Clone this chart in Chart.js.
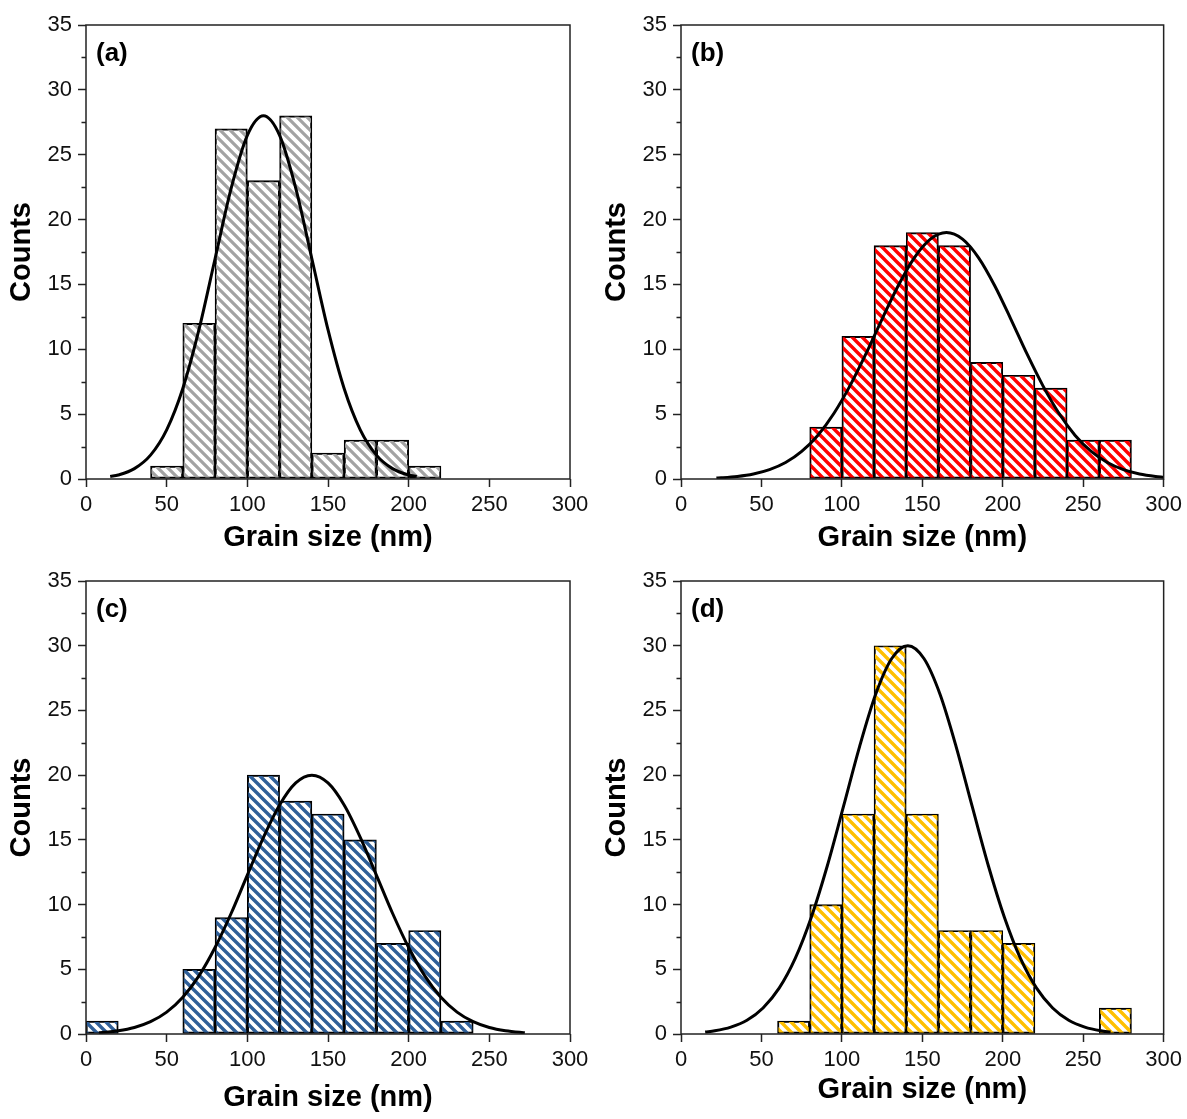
<!DOCTYPE html>
<html>
<head>
<meta charset="utf-8">
<title>Grain size distributions</title>
<script src="https://cdn.jsdelivr.net/npm/chart.js@4.4.1/dist/chart.umd.min.js"></script>
<style>
  html, body { margin: 0; padding: 0; background: #ffffff; }
  body { width: 1187px; height: 1119px; position: relative; overflow: hidden; }
  canvas { position: absolute; display: block; }
</style>
</head>
<body>
<canvas id="pa" width="595" height="556" style="left:0;top:0"></canvas>
<canvas id="pb" width="592" height="556" style="left:595px;top:0"></canvas>
<canvas id="pc" width="595" height="563" style="left:0;top:556px"></canvas>
<canvas id="pd" width="592" height="563" style="left:595px;top:556px"></canvas>
<script>
// Histogram bins: 20 nm wide, 0–300 nm
const binLabels = ['0-20','20-40','40-60','60-80','80-100','100-120','120-140','140-160',
                   '160-180','180-200','200-220','220-240','240-260','260-280','280-300'];

// Counts per bin (null = empty bin)
const countsA = [null, null, 1, 12, 27, 23, 28, 2, 3, 3, 1, null, null, null, null];
const countsB = [null, null, null, null, 4, 11, 18, 19, 18, 9, 8, 7, 3, 3, null];
const countsC = [1, null, null, 5, 9, 20, 18, 17, 15, 7, 8, 1, null, null, null];
const countsD = [null, null, null, 1, 10, 17, 30, 17, 8, 8, 7, null, null, 2, null];

// Fitted distribution curves (grain size in nm, counts)
const fitXA = [15, 20, 30, 40, 50, 60, 70, 80, 90, 100, 110, 120, 130, 140, 150, 160, 170, 180, 190, 200, 205];
const fitYA = [0.19, 0.31, 0.80, 1.84, 3.79, 6.98, 11.51, 16.98, 22.42, 26.49, 28, 26.49, 22.42, 16.98, 11.51, 6.98, 3.79, 1.84, 0.80, 0.31, 0.19];

const fitXB = [22, 25, 35, 45, 55, 65, 75, 85, 95, 105, 115, 125, 135, 145, 155, 165, 175, 185, 195, 205, 215, 225, 235, 245, 255, 265, 275, 285, 295, 300];
const fitYB = [0.075, 0.095, 0.197, 0.387, 0.72, 1.27, 2.13, 3.36, 5.05, 7.18, 9.66, 12.33, 14.90, 17.05, 18.49, 19, 18.49, 17.05, 14.90, 12.33, 9.66, 7.18, 5.05, 3.36, 2.13, 1.27, 0.72, 0.387, 0.197, 0.14];

const fitXC = [8, 10, 20, 30, 40, 50, 60, 70, 80, 90, 100, 110, 120, 130, 140, 150, 160, 170, 180, 190, 200, 210, 220, 230, 240, 250, 260, 270, 272];
const fitYC = [0.099, 0.116, 0.248, 0.50, 0.95, 1.69, 2.84, 4.49, 6.68, 9.33, 12.28, 15.20, 17.70, 19.40, 20, 19.40, 17.70, 15.20, 12.28, 9.33, 6.68, 4.49, 2.84, 1.69, 0.95, 0.50, 0.248, 0.116, 0.099];

const fitXD = [15, 21, 31, 41, 51, 61, 71, 81, 91, 101, 111, 121, 131, 141, 151, 161, 171, 181, 191, 201, 211, 221, 231, 241, 251, 261, 267];
const fitYD = [0.15, 0.245, 0.53, 1.06, 2.01, 3.54, 5.84, 9.02, 13.02, 17.58, 22.21, 26.25, 29.01, 30, 29.01, 26.25, 22.21, 17.58, 13.02, 9.02, 5.84, 3.54, 2.01, 1.06, 0.53, 0.245, 0.15];

// Axis ticks
const xTicks = [0, 50, 100, 150, 200, 250, 300];
const yTicks = [0, 5, 10, 15, 20, 25, 30, 35];
const yMinorTicks = [2.5, 7.5, 12.5, 17.5, 22.5, 27.5, 32.5];

const FONT = '"Liberation Sans", Arial, Helvetica, sans-serif';
const AXIS_COLOR = '#222222';

// Diagonal "\" hatch fill
function hatch(ctx, color, width) {
  const p = 10;
  const c = document.createElement('canvas');
  c.width = p; c.height = p;
  const g = c.getContext('2d');
  g.strokeStyle = color;
  g.lineWidth = width;
  g.beginPath();
  for (const k of [-1, 0, 1]) {
    g.moveTo(k * p - 2, -2);
    g.lineTo(k * p + p + 2, p + 2);
  }
  g.stroke();
  return ctx.createPattern(c, 'repeat');
}

// Box frame, minor y ticks and the panel letter
const framePlugin = {
  id: 'frame',
  afterDatasetsDraw(chart, args, opts) {
    const { ctx, chartArea: a, scales } = chart;
    ctx.save();
    ctx.strokeStyle = AXIS_COLOR;
    ctx.lineWidth = 1.5;
    ctx.beginPath();
    for (const v of yMinorTicks) {
      const py = Math.round(scales.y.getPixelForValue(v)) + 0.5;
      ctx.moveTo(a.left, py);
      ctx.lineTo(a.left - 4.5, py);
    }
    ctx.stroke();
    ctx.strokeRect(a.left, a.top, a.right - a.left, a.bottom - a.top);
    ctx.font = 'bold 26px ' + FONT;
    ctx.fillStyle = '#000';
    ctx.textAlign = 'left';
    ctx.textBaseline = 'middle';
    ctx.fillText(opts.label, a.left + 10, a.top + 29);
    ctx.restore();
  }
};

function makePanel(id, cfg) {
  const canvas = document.getElementById(id);
  const ctx = canvas.getContext('2d');
  const fill = hatch(ctx, cfg.color, cfg.stripe);
  const curve = cfg.fitX.map((x, i) => ({ x: x, y: cfg.fitY[i] }));
  new Chart(ctx, {
    type: 'bar',
    data: {
      labels: binLabels,
      datasets: [
        {
          type: 'line',
          data: curve,
          xAxisID: 'x',
          yAxisID: 'y',
          borderColor: '#000000',
          borderWidth: 3,
          pointRadius: 0,
          fill: false,
          cubicInterpolationMode: 'monotone',
          order: 0
        },
        {
          type: 'bar',
          data: cfg.counts,
          xAxisID: 'xc',
          yAxisID: 'y',
          backgroundColor: fill,
          borderColor: '#000000',
          borderWidth: 1.3,
          borderSkipped: false,
          grouped: false,
          barPercentage: 1,
          categoryPercentage: 1,
          order: 1
        }
      ]
    },
    options: {
      responsive: false,
      animation: false,
      events: [],
      layout: { padding: { left: 0, top: 25, right: cfg.padRight, bottom: 0 } },
      plugins: {
        legend: { display: false },
        tooltip: { enabled: false },
        frame: { label: cfg.label }
      },
      scales: {
        xc: {
          type: 'category',
          axis: 'x',
          display: false,
          offset: true
        },
        x: {
          type: 'linear',
          position: 'bottom',
          offset: false,
          min: 0,
          max: 300,
          afterBuildTicks: (s) => { s.ticks = xTicks.map(v => ({ value: v })); },
          afterFit: (s) => { s.height = cfg.xAxisHeight; },
          border: { display: false },
          grid: {
            offset: false,
            drawOnChartArea: false,
            drawTicks: true,
            tickLength: 8,
            tickWidth: 1.5,
            tickColor: AXIS_COLOR
          },
          ticks: {
            color: '#111',
            font: { family: FONT, size: 22 },
            padding: 5,
            maxRotation: 0,
            autoSkip: false
          },
          title: {
            display: true,
            text: 'Grain size (nm)',
            color: '#000',
            font: { family: FONT, size: 29, weight: 'bold' },
            padding: { top: 0, bottom: cfg.titlePad }
          }
        },
        y: {
          type: 'linear',
          min: 0,
          max: 35,
          afterBuildTicks: (s) => { s.ticks = yTicks.map(v => ({ value: v })); },
          afterFit: (s) => { s.width = 86; },
          border: { display: false },
          grid: {
            drawOnChartArea: false,
            drawTicks: true,
            tickLength: 8,
            tickWidth: 1.5,
            tickColor: AXIS_COLOR
          },
          ticks: {
            color: '#111',
            font: { family: FONT, size: 22 },
            padding: 6
          },
          title: {
            display: true,
            text: 'Counts',
            color: '#000',
            font: { family: FONT, size: 29, weight: 'bold' },
            padding: { top: 5, bottom: 0 }
          }
        }
      }
    },
    plugins: [framePlugin]
  });
}

makePanel('pa', { label: '(a)', counts: countsA, fitX: fitXA, fitY: fitYA, color: '#a3a3a3', stripe: 3.2,
                  padRight: 25, xAxisHeight: 77, titlePad: 1 });
makePanel('pb', { label: '(b)', counts: countsB, fitX: fitXB, fitY: fitYB, color: '#ff0000', stripe: 3.4,
                  padRight: 21.5, xAxisHeight: 77, titlePad: 1 });
makePanel('pc', { label: '(c)', counts: countsC, fitX: fitXC, fitY: fitYC, color: '#2f5f99', stripe: 3.4,
                  padRight: 25, xAxisHeight: 85, titlePad: 4 });
makePanel('pd', { label: '(d)', counts: countsD, fitX: fitXD, fitY: fitYD, color: '#ffc000', stripe: 3.4,
                  padRight: 21.5, xAxisHeight: 85, titlePad: 12 });
</script>
</body>
</html>
